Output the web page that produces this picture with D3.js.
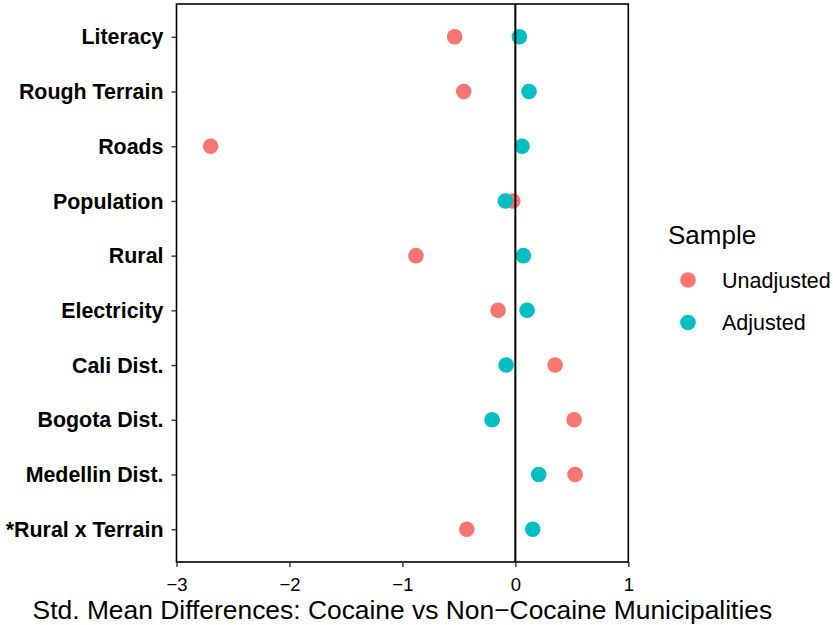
<!DOCTYPE html>
<html><head><meta charset="utf-8">
<script src="https://cdn.jsdelivr.net/npm/d3@7"></script>
<style>body{margin:0;background:#fff;font-family:"Liberation Sans",Arial,Helvetica,sans-serif;}</style>
</head><body><svg id="c" width="833" height="625"></svg>
<script>
const categories = ["Literacy","Rough Terrain","Roads","Population","Rural","Electricity","Cali Dist.","Bogota Dist.","Medellin Dist.","*Rural x Terrain"];
const unadjusted = [-0.537,-0.457,-2.698,-0.023,-0.880,-0.153,0.352,0.520,0.529,-0.430];
const adjusted   = [0.036,0.121,0.059,-0.089,0.071,0.104,-0.082,-0.206,0.207,0.154];
const seriesNames = ["Unadjusted","Adjusted"];
const colors = ["#F8766D","#00BFC4"];
const xTicks = [-3,-2,-1,0,1];

const svg = d3.select("#c");
const F = "Liberation Sans,Arial,sans-serif";
const L=176.5, R=628.3, T=4, B=562;
const x = d3.scaleLinear().domain([-3,1]).range([L,R]);
const y = d3.scalePoint().domain(categories).range([T,B]).padding(0.6);

const series = [unadjusted, adjusted];
series.forEach((vals,si)=>{
  svg.append("g").selectAll("circle").data(vals).join("circle")
    .attr("cx",d=>x(d)).attr("cy",(d,i)=>y(categories[i])).attr("r",7.8)
    .attr("fill",colors[si]);
});
svg.append("line").attr("x1",x(0)).attr("x2",x(0)).attr("y1",T).attr("y2",B)
  .attr("stroke","#000").attr("stroke-width",2);
svg.append("rect").attr("x",L).attr("y",T).attr("width",R-L).attr("height",B-T)
  .attr("fill","none").attr("stroke","#000").attr("stroke-width",1.6);

const xa = svg.append("g").attr("transform",`translate(0,${B})`)
  .call(d3.axisBottom(x).tickValues(xTicks).tickSize(5).tickSizeOuter(0).tickFormat(d=>d<0?"\u2212"+Math.abs(d):d));
xa.attr("font-size",null);
xa.select(".domain").remove();
xa.selectAll(".tick line").attr("stroke","#333").attr("stroke-width",1.4);
xa.selectAll(".tick text").attr("fill","#000").style("font-size","18.5px").style("font-family",F)
  .attr("y",28.9).attr("dy",null);

const ya = svg.append("g").attr("transform",`translate(${L},0)`)
  .call(d3.axisLeft(y).tickSize(5).tickSizeOuter(0).tickPadding(8));
ya.select(".domain").remove();
ya.selectAll(".tick line").attr("stroke","#333").attr("stroke-width",1.4);
ya.selectAll(".tick text").attr("fill","#000").attr("font-size",21.4).attr("font-weight","bold")
  .attr("font-family",F).attr("dy","0.33em");

svg.append("text").attr("x",(L+R)/2).attr("y",619.3).attr("text-anchor","middle")
  .attr("font-size",26.4).attr("font-family",F).text("Std. Mean Differences: Cocaine vs Non\u2212Cocaine Municipalities");

svg.append("text").attr("x",668).attr("y",244).attr("font-size",26).attr("font-family",F).text("Sample");
seriesNames.forEach((n,i)=>{
  const cy = 280 + i*42.5;
  svg.append("circle").attr("cx",688).attr("cy",cy).attr("r",7.8).attr("fill",colors[i]);
  svg.append("text").attr("x",722).attr("y",cy+7.6).attr("font-size",21.5).attr("font-family",F).text(n);
});
</script></body></html>
